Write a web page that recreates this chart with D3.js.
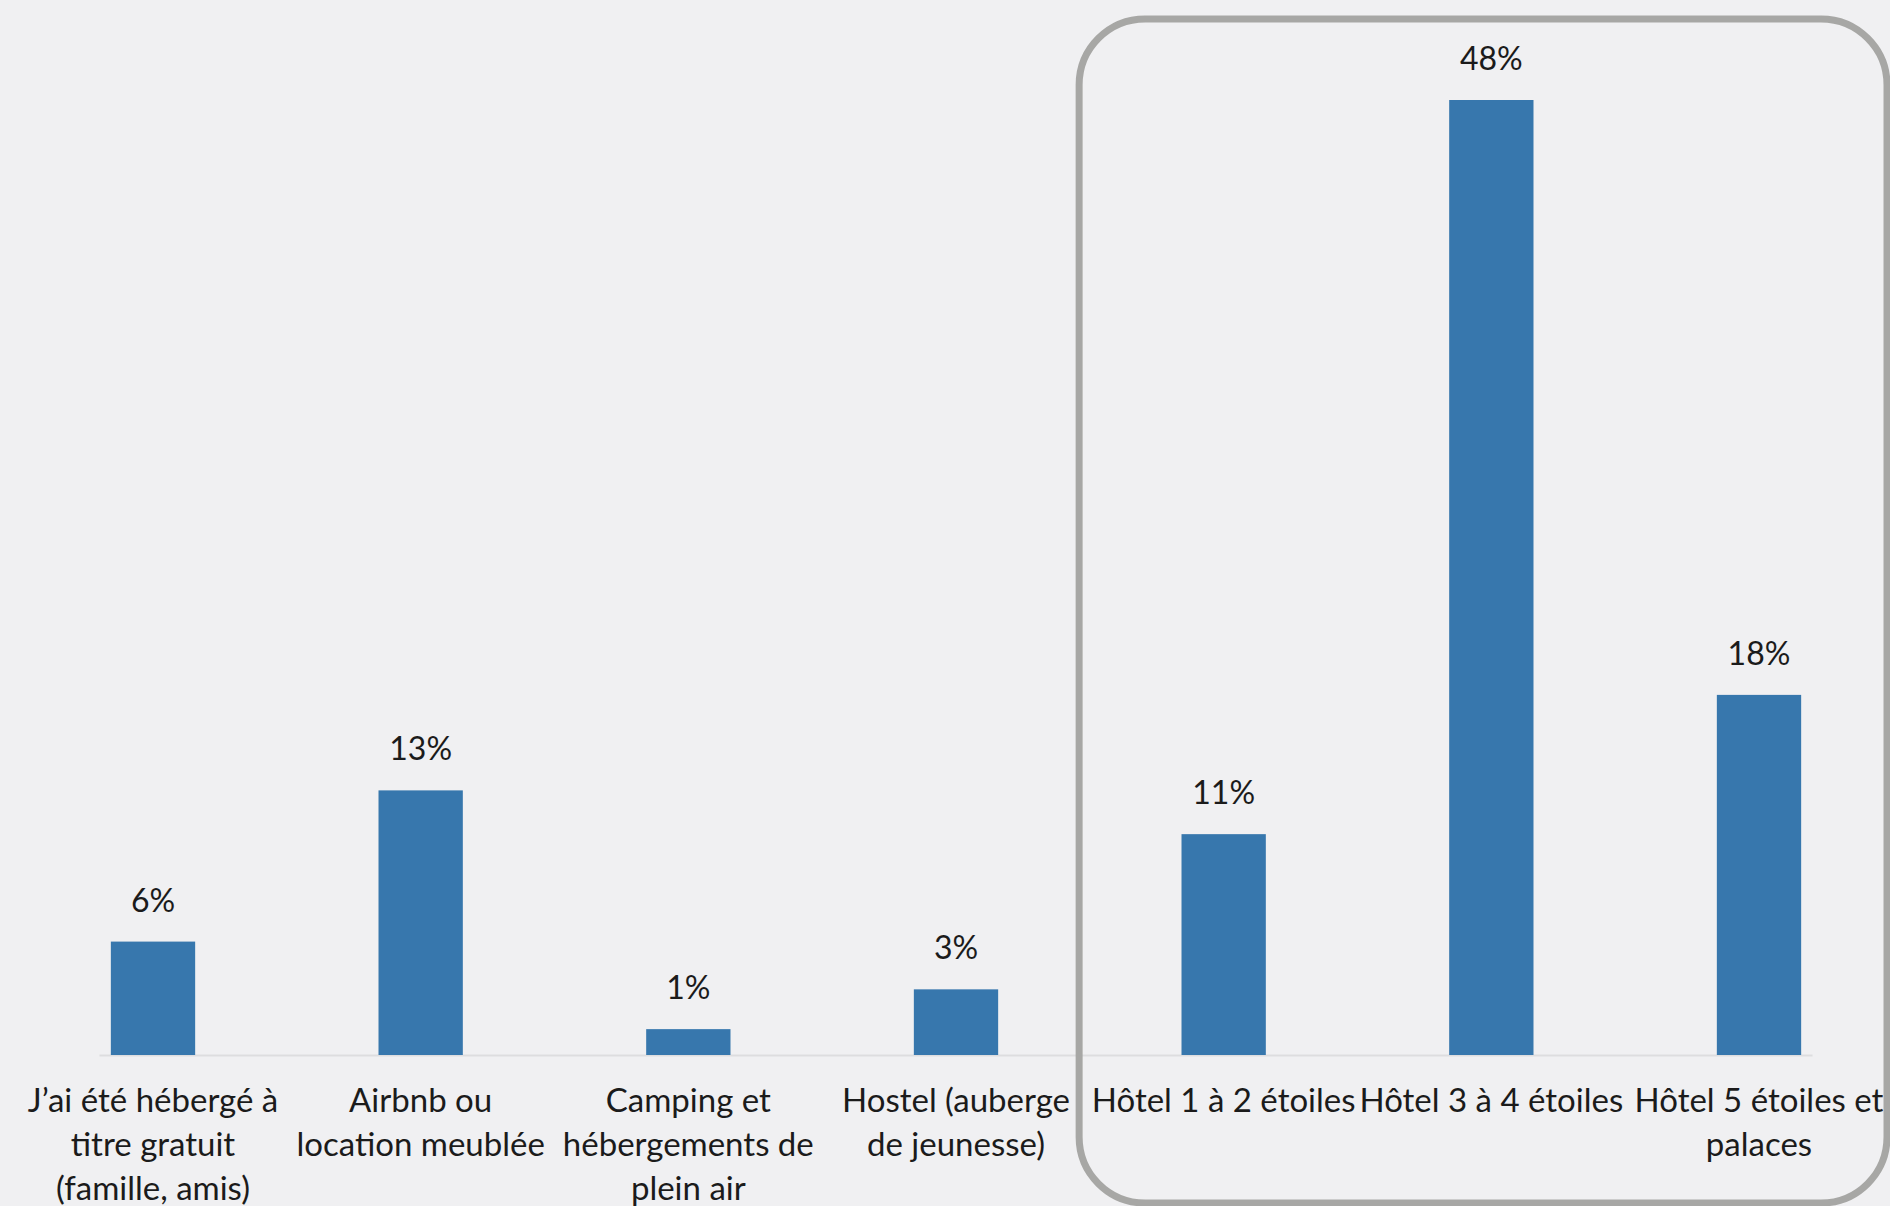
<!DOCTYPE html>
<html>
<head>
<meta charset="utf-8">
<script src="https://cdn.jsdelivr.net/npm/d3@7"></script>
<style>
  html, body { margin: 0; padding: 0; background: #f0f0f2; }
  svg { display: block; }
  .cat-label, .value-label { font-family: Lato, "Open Sans", sans-serif; fill: #1b1b1b; }
</style>
</head>
<body>
<div id="chart"></div>
<script>
// categories, one entry per bar (lines as wrapped in the original)
var categories = [
  "gratuit", "airbnb", "camping", "hostel", "hotel12", "hotel34", "hotel5"
];
var categoryLines = [
  ["J’ai été hébergé à", "titre gratuit", "(famille, amis)"],
  ["Airbnb ou", "location meublée"],
  ["Camping et", "hébergements de", "plein air"],
  ["Hostel (auberge", "de jeunesse)"],
  ["Hôtel 1 à 2 étoiles"],
  ["Hôtel 3 à 4 étoiles"],
  ["Hôtel 5 étoiles et", "palaces"]
];
// shares in percent
var shares = [5.7, 13.3, 1.3, 3.3, 11.1, 48.0, 18.1];
var shareLabels = ["6%", "13%", "1%", "3%", "11%", "48%", "18%"];
// categories grouped inside the rounded frame
var framed = ["hotel12", "hotel34", "hotel5"];

var WIDTH = 1890, HEIGHT = 1206;
var BASELINE = 1055, TOP48 = 100;

var svg = d3.select("#chart").append("svg")
  .attr("width", WIDTH)
  .attr("height", HEIGHT);

svg.append("rect")
  .attr("width", WIDTH)
  .attr("height", HEIGHT)
  .attr("fill", "#f0f0f2");

var x = d3.scalePoint().domain(categories).range([153, 1759]);
var barWidth = x.step() * 0.315;
var y = d3.scaleLinear().domain([0, 48]).range([BASELINE, TOP48]);

var data = categories.map(function(c, i) {
  return { key: c, value: shares[i], label: shareLabels[i], lines: categoryLines[i] };
});

// faint baseline
svg.append("line")
  .attr("x1", x(categories[0]) - x.step() * 0.2)
  .attr("x2", x(categories[categories.length - 1]) + x.step() * 0.2)
  .attr("y1", y(0) + 0.5)
  .attr("y2", y(0) + 0.5)
  .attr("stroke", "#dddddf")
  .attr("stroke-width", 2);

svg.selectAll("rect.bar")
  .data(data)
  .enter().append("rect")
  .attr("class", "bar")
  .attr("x", function(d) { return x(d.key) - barWidth / 2; })
  .attr("y", function(d) { return y(d.value); })
  .attr("width", barWidth)
  .attr("height", function(d) { return y(0) - y(d.value); })
  .attr("fill", "#3777ad");

svg.selectAll("text.value-label")
  .data(data)
  .enter().append("text")
  .attr("class", "value-label")
  .attr("x", function(d) { return x(d.key); })
  .attr("y", function(d) { return y(d.value) - 30; })
  .attr("text-anchor", "middle")
  .style("font-size", "32px")
  .text(function(d) { return d.label; });

var cat = svg.selectAll("text.cat-label")
  .data(data)
  .enter().append("text")
  .attr("class", "cat-label")
  .attr("text-anchor", "middle")
  .style("font-size", "33px")
  .attr("y", 1112);

cat.selectAll("tspan")
  .data(function(d) { return d.lines.map(function(l) { return { key: d.key, text: l }; }); })
  .enter().append("tspan")
  .attr("x", function(d) { return x(d.key); })
  .attr("dy", function(d, i) { return i === 0 ? 0 : 44; })
  .text(function(d) { return d.text; });

// rounded frame around the hotel categories
var fx0 = x(framed[0]) - x.step() * 0.54;
svg.append("rect")
  .attr("x", fx0)
  .attr("y", 19)
  .attr("width", 1887 - fx0)
  .attr("height", 1203 - 19)
  .attr("rx", 66)
  .attr("ry", 66)
  .attr("fill", "none")
  .attr("stroke", "#a7a7a5")
  .attr("stroke-width", 7);
</script>
</body>
</html>
